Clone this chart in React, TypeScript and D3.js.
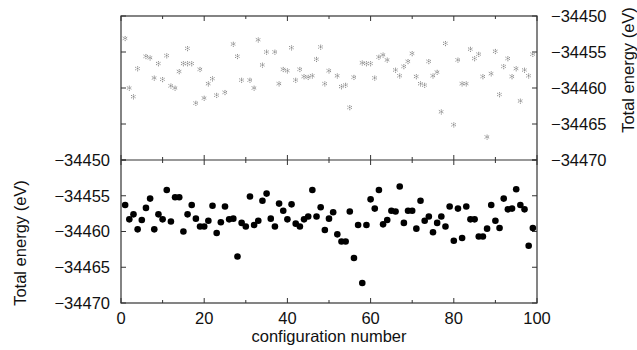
import React, { useEffect, useRef } from 'react';
import * as d3 from 'd3';

// Top panel: [configuration, energy] (gray asterisks, some configs missing)
const topConfigs = [1, 2, 3, 4, 6, 7, 8, 9, 10, 11, 12, 13, 14, 15, 16, 16, 17, 18, 19, 20, 21, 22, 23, 25, 27, 28, 29, 31, 32, 33, 34, 35, 37, 38, 39, 40, 41, 42, 43, 44, 45, 46, 47, 48, 49, 50, 52, 53, 54, 55, 56, 58, 59, 60, 61, 62, 63, 64, 66, 67, 68, 69, 70, 71, 72, 73, 74, 75, 76, 77, 78, 80, 81, 82, 83, 84, 85, 86, 87, 88, 89, 90, 91, 92, 93, 94, 95, 96, 97, 98, 99];
const topEnergies = [-34453.1, -34460.0, -34461.2, -34457.3, -34455.6, -34455.8, -34458.6, -34456.6, -34458.8, -34455.5, -34459.7, -34460.0, -34457.7, -34456.6, -34454.5, -34456.6, -34456.6, -34462.1, -34457.4, -34461.4, -34459.4, -34458.7, -34461.0, -34460.6, -34453.9, -34455.6, -34458.9, -34458.9, -34460.0, -34453.3, -34456.8, -34455.0, -34455.0, -34459.4, -34457.4, -34457.6, -34454.4, -34458.9, -34457.4, -34458.4, -34458.5, -34458.3, -34456.0, -34454.3, -34459.4, -34457.6, -34458.3, -34459.8, -34459.6, -34462.7, -34458.5, -34456.5, -34456.6, -34456.6, -34458.6, -34455.7, -34455.4, -34456.1, -34457.5, -34458.3, -34457.0, -34456.3, -34455.2, -34458.4, -34459.4, -34459.6, -34456.3, -34458.3, -34457.8, -34463.3, -34453.8, -34465.1, -34456.1, -34459.4, -34459.4, -34454.6, -34455.9, -34455.3, -34458.4, -34466.8, -34458.0, -34454.9, -34460.9, -34457.0, -34455.9, -34458.4, -34457.3, -34461.8, -34457.5, -34458.3, -34455.3];

// Bottom panel: configurations 1..99 (black dots)
const bottomEnergies = [-34456.3, -34458.3, -34457.6, -34459.7, -34458.4, -34456.7, -34455.4, -34459.7, -34457.6, -34458.3, -34454.2, -34458.6, -34455.2, -34455.2, -34460.0, -34457.6, -34456.3, -34458.2, -34459.3, -34459.3, -34458.5, -34456.4, -34460.2, -34458.7, -34456.5, -34458.3, -34458.2, -34463.5, -34458.8, -34459.3, -34455.1, -34459.1, -34458.5, -34455.7, -34454.7, -34458.2, -34459.3, -34456.1, -34457.1, -34458.3, -34456.2, -34458.9, -34459.3, -34458.3, -34457.9, -34454.2, -34457.9, -34456.6, -34459.8, -34458.2, -34457.3, -34460.4, -34461.4, -34461.4, -34457.2, -34463.7, -34459.1, -34467.2, -34459.1, -34455.5, -34456.8, -34454.2, -34459.0, -34458.4, -34457.1, -34457.2, -34453.7, -34458.8, -34457.1, -34457.1, -34459.6, -34455.7, -34458.5, -34457.9, -34460.1, -34458.8, -34457.9, -34459.3, -34456.5, -34461.3, -34456.8, -34460.9, -34456.5, -34458.3, -34458.3, -34460.7, -34460.7, -34459.6, -34456.3, -34458.5, -34459.5, -34455.4, -34456.9, -34456.8, -34454.1, -34456.3, -34456.9, -34462.0, -34459.5];

const yTicks = [-34450, -34455, -34460, -34465, -34470];
const xTickLabels = [0, 20, 40, 60, 80, 100];
const xTicks = d3.range(0, 101, 10);

const W = 637;
const H = 350;
const FONT = '"Liberation Sans", Arial, Helvetica, sans-serif';

const App: React.FC = () => {
  const svgRef = useRef<SVGSVGElement>(null);

  useEffect(() => {
    if (!svgRef.current) return;
    const svg = d3.select(svgRef.current);
    svg.selectAll('*').remove();

    const left = 121, right = 537;
    const top = 16, mid = 160, bottom = 303;

    const x = d3.scaleLinear().domain([0, 100]).range([left, right]);
    const yTop = d3.scaleLinear().domain([-34470, -34450]).range([mid, top]);
    const yBot = d3.scaleLinear().domain([-34470, -34450]).range([bottom, mid]);

    const axisColor = '#333';

    // frame
    svg.append('rect')
      .attr('x', left).attr('y', top)
      .attr('width', right - left).attr('height', bottom - top)
      .attr('fill', 'none').attr('stroke', axisColor).attr('stroke-width', 1.2);
    svg.append('line')
      .attr('x1', left).attr('x2', right).attr('y1', mid).attr('y2', mid)
      .attr('stroke', axisColor).attr('stroke-width', 1.2);

    // x ticks
    const tickLen = (d: number) => (d % 20 === 0 ? 5 : 3);
    xTicks.forEach(d => {
      const xx = x(d);
      svg.append('line').attr('x1', xx).attr('x2', xx).attr('y1', top).attr('y2', top + tickLen(d))
        .attr('stroke', axisColor);
      svg.append('line').attr('x1', xx).attr('x2', xx).attr('y1', mid - tickLen(d)).attr('y2', mid + tickLen(d))
        .attr('stroke', axisColor);
      svg.append('line').attr('x1', xx).attr('x2', xx).attr('y1', bottom).attr('y2', bottom - tickLen(d))
        .attr('stroke', axisColor);
    });

    // y ticks, both panels, both sides
    [yTop, yBot].forEach(sc => {
      yTicks.forEach(t => {
        const yy = sc(t);
        svg.append('line').attr('x1', left).attr('x2', left + 5).attr('y1', yy).attr('y2', yy).attr('stroke', axisColor);
        svg.append('line').attr('x1', right).attr('x2', right - 5).attr('y1', yy).attr('y2', yy).attr('stroke', axisColor);
      });
    });

    // left labels (bottom panel)
    svg.selectAll('.ylab-left')
      .data(yTicks).enter().append('text')
      .attr('x', 110).attr('y', d => yBot(d))
      .attr('dy', '0.36em')
      .attr('text-anchor', 'end')
      .style('font-family', FONT).style('font-size', '16.5px').style('fill', '#111')
      .text(d => d3.format('d')(d).replace('-', '\u2212'));

    // right labels (top panel)
    svg.selectAll('.ylab-right')
      .data(yTicks).enter().append('text')
      .attr('x', 551).attr('y', d => yTop(d))
      .attr('dy', '0.36em')
      .attr('text-anchor', 'start')
      .style('font-family', FONT).style('font-size', '16.5px').style('fill', '#111')
      .text(d => d3.format('d')(d).replace('-', '\u2212'));

    // x labels
    svg.selectAll('.xlab')
      .data(xTickLabels).enter().append('text')
      .attr('x', d => x(d)).attr('y', 324)
      .attr('text-anchor', 'middle')
      .style('font-family', FONT).style('font-size', '16.5px').style('fill', '#111')
      .text(d => d);

    svg.append('text')
      .attr('x', (left + right) / 2).attr('y', 342)
      .attr('text-anchor', 'middle')
      .style('font-family', FONT).style('font-size', '16.5px').style('fill', '#111')
      .text('configuration number');

    // axis titles
    svg.append('text')
      .attr('transform', `translate(26,243) rotate(-90)`)
      .attr('text-anchor', 'middle')
      .style('font-family', FONT).style('font-size', '16.5px').style('fill', '#111')
      .text('Total energy (eV)');
    svg.append('text')
      .attr('transform', `translate(634,70) rotate(-90)`)
      .attr('text-anchor', 'middle')
      .style('font-family', FONT).style('font-size', '16.5px').style('fill', '#111')
      .text('Total energy (eV)');

    // top panel markers: faint gray asterisks
    const star = d3.symbol().type(d3.symbolAsterisk).size(22);
    svg.append('g').selectAll('path')
      .data(topConfigs.map((c, i) => [c, topEnergies[i]]))
      .enter().append('path')
      .attr('d', star)
      .attr('transform', d => `translate(${x(d[0])},${yTop(d[1])})`)
      .attr('fill', 'none')
      .attr('stroke', '#8a8a8a')
      .attr('stroke-width', 1)
      .attr('stroke-dasharray', '1.2,0.8');

    // bottom panel markers: black dots
    svg.append('g').selectAll('circle')
      .data(bottomEnergies)
      .enter().append('circle')
      .attr('cx', (d, i) => x(i + 1))
      .attr('cy', d => yBot(d))
      .attr('r', 3.3)
      .attr('fill', '#000');
  }, []);

  return (
    <svg
      ref={svgRef}
      width={W}
      height={H}
      style={{ position: 'absolute', left: 0, top: 0, background: '#fff' }}
    />
  );
};

export default App;
